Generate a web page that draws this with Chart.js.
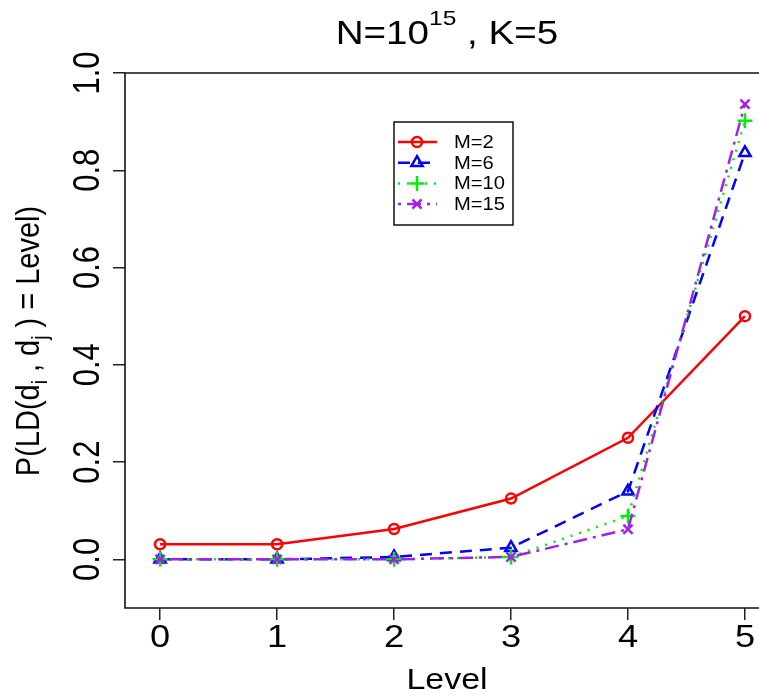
<!DOCTYPE html>
<html>
<head>
<meta charset="utf-8">
<script src="https://cdn.jsdelivr.net/npm/chart.js@4/dist/chart.umd.min.js"></script>
<style>
  html, body { margin: 0; padding: 0; background: #fff; overflow: hidden; }
  canvas { display: block; }
</style>
</head>
<body>
<canvas id="chart" width="759" height="696"></canvas>
<script>
// Chart data
const levels = [0, 1, 2, 3, 4, 5];
const seriesLabels = ['M=2', 'M=6', 'M=10', 'M=15'];
const m2Values = [0.031, 0.031, 0.0625, 0.125, 0.25, 0.5];
const m6Values = [0, 0, 0.005, 0.024, 0.14, 0.836];
const m10Values = [0, 0, 0, 0.005, 0.089, 0.902];
const m15Values = [0, 0, 0, 0.005, 0.062, 0.936];
const xTickValues = [0, 1, 2, 3, 4, 5];
const yTickValues = [0, 0.2, 0.4, 0.6, 0.8, 1.0];
const yTickLabels = ['0.0', '0.2', '0.4', '0.6', '0.8', '1.0'];

const FONT = '"Liberation Sans", Arial, Helvetica, sans-serif';
const SX = 1.17; // horizontal text stretch of the original picture

function toPoints(values) {
    return levels.map((lv, i) => ({ x: lv, y: values[i] }));
}

// draw a run of text pieces [text, size, dy] centred on (x, y)
function drawRun(ctx, parts, x, y, rot) {
    ctx.save();
    ctx.translate(x, y);
    ctx.scale(SX, 1);
    if (rot) ctx.rotate(rot);
    ctx.fillStyle = '#000';
    ctx.textBaseline = 'alphabetic';
    ctx.textAlign = 'left';
    let total = 0;
    const widths = parts.map(p => {
        ctx.font = p[1] + 'px ' + FONT;
        const w = ctx.measureText(p[0]).width;
        total += w;
        return w;
    });
    let cx = -total / 2;
    parts.forEach((p, i) => {
        ctx.font = p[1] + 'px ' + FONT;
        ctx.fillText(p[0], cx, p[2] || 0);
        cx += widths[i];
    });
    ctx.restore();
}

// Frame, tick labels, titles and legend
const decorPlugin = {
    id: 'decor',
    afterDraw(chart) {
        const ctx = chart.ctx;
        const area = chart.chartArea;
        const xs = chart.scales.x;
        const ys = chart.scales.y;

        // box: left, top, bottom
        ctx.save();
        ctx.strokeStyle = '#111';
        ctx.lineWidth = 1.6;
        ctx.beginPath();
        ctx.moveTo(area.right + 5, area.top);
        ctx.lineTo(area.left, area.top);
        ctx.lineTo(area.left, area.bottom);
        ctx.lineTo(area.right + 5, area.bottom);
        ctx.stroke();
        ctx.restore();

        // tick labels
        xTickValues.forEach(v => {
            drawRun(ctx, [[String(v), 31]], xs.getPixelForValue(v), 647);
        });
        yTickValues.forEach((v, i) => {
            drawRun(ctx, [[yTickLabels[i], 31]], 99, ys.getPixelForValue(v), -Math.PI / 2);
        });

        // title
        drawRun(ctx, [['N=10', 33, 0], ['15', 21, -19], [' , K=5', 33, 0]], 447, 44);
        // axis titles
        drawRun(ctx, [['Level', 29]], 447, 689);
        drawRun(ctx, [['P(LD(d', 29, 0], ['i', 19, 7], [' , d', 29, 0], ['j', 19, 7], [' ) = Level)', 29, 0]],
            39, 341, -Math.PI / 2);

        // legend
        const lx = 394, ly = 122, lw = 119, lh = 103;
        ctx.save();
        ctx.fillStyle = '#fff';
        ctx.fillRect(lx, ly, lw, lh);
        ctx.strokeStyle = '#000';
        ctx.lineWidth = 1.4;
        ctx.strokeRect(lx, ly, lw, lh);
        chart.data.datasets.forEach((ds, i) => {
            const y = 142 + i * 20.7;
            ctx.save();
            ctx.strokeStyle = ds.borderColor;
            ctx.lineWidth = ds.borderWidth;
            ctx.setLineDash(ds.borderDash || []);
            ctx.beginPath();
            ctx.moveTo(398, y);
            ctx.lineTo(437, y);
            ctx.stroke();
            ctx.setLineDash([]);
            ctx.fillStyle = 'rgba(0,0,0,0)';
            ctx.lineWidth = ds.pointBorderWidth;
            Chart.helpers.drawPoint(ctx, {
                pointStyle: ds.pointStyle,
                radius: ds.pointRadius,
                rotation: 0,
                borderWidth: ds.pointBorderWidth
            }, 417, y);
            ctx.restore();
            ctx.save();
            ctx.translate(454, y);
            ctx.scale(1.12, 1);
            ctx.fillStyle = '#000';
            ctx.font = '18px ' + FONT;
            ctx.textBaseline = 'middle';
            ctx.textAlign = 'left';
            ctx.fillText(seriesLabels[i], 0, 1);
            ctx.restore();
        });
        ctx.restore();
    }
};

function makeSeries(label, values, color, dash, style, radius, order) {
    return {
        label: label,
        data: toPoints(values),
        borderColor: color,
        borderWidth: 2.5,
        borderDash: dash,
        pointStyle: style,
        pointRadius: radius,
        pointHoverRadius: radius,
        pointBorderColor: color,
        pointBackgroundColor: 'rgba(0,0,0,0)',
        pointBorderWidth: 2.5,
        tension: 0,
        order: order
    };
}

const datasets = [
    makeSeries(seriesLabels[0], m2Values, '#ff0000', [], 'circle', 5, 4),
    makeSeries(seriesLabels[1], m6Values, '#0000ff', [12, 8], 'triangle', 6.5, 3),
    makeSeries(seriesLabels[2], m10Values, '#00ee00', [2, 7], 'cross', 7.5, 2),
    makeSeries(seriesLabels[3], m15Values, '#a020f0', [3, 6, 14, 6], 'crossRot', 6.5, 1)
];

new Chart(document.getElementById('chart'), {
    type: 'line',
    data: { datasets: datasets },
    plugins: [decorPlugin],
    options: {
        responsive: false,
        animation: false,
        events: [],
        layout: { autoPadding: false, padding: { top: 73, left: 0, right: 0, bottom: 0 } },
        plugins: {
            legend: { display: false },
            title: { display: false },
            tooltip: { enabled: false }
        },
        scales: {
            x: {
                type: 'linear',
                min: -0.3,
                max: 5.12,
                afterBuildTicks: s => { s.ticks = xTickValues.map(v => ({ value: v })); },
                afterFit: s => { s.height = 88; },
                ticks: { display: false },
                border: { display: false },
                grid: {
                    drawOnChartArea: false,
                    drawTicks: true,
                    tickLength: 12,
                    color: '#222',
                    lineWidth: 1.5
                }
            },
            y: {
                type: 'linear',
                min: -0.1,
                max: 1.0,
                afterBuildTicks: s => { s.ticks = yTickValues.map(v => ({ value: v })); },
                afterFit: s => { s.width = 125; },
                ticks: { display: false },
                border: { display: false },
                grid: {
                    drawOnChartArea: false,
                    drawTicks: true,
                    tickLength: 12,
                    color: '#222',
                    lineWidth: 1.5
                }
            }
        }
    }
});
</script>
</body>
</html>
